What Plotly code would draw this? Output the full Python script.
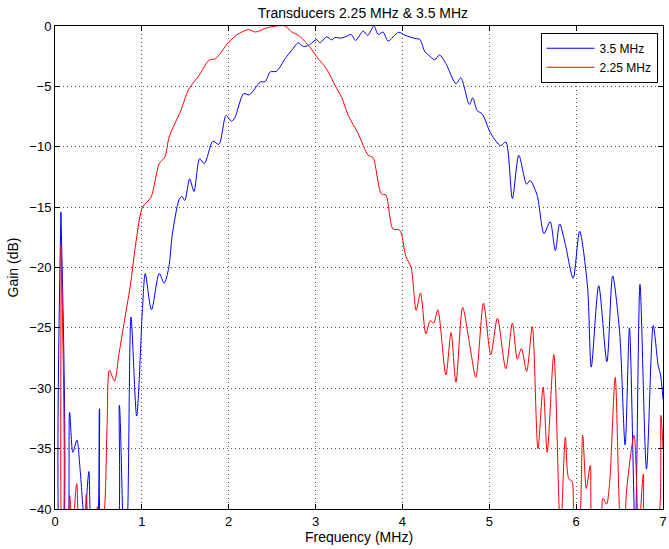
import plotly.graph_objects as go

# 2.25 MHz transducer (red)
red_f = [0.0, 0.055, 0.07, 0.088, 0.15, 0.17, 0.2, 0.25, 0.29, 0.33, 0.36, 0.4, 0.46, 0.49, 0.53, 0.57,
         0.6, 0.627, 0.684, 0.74, 0.80, 0.875, 0.93, 1.008, 1.104, 1.2, 1.265, 1.314, 1.448, 1.543, 1.657,
         1.772, 1.849, 1.93, 2.0, 2.116, 2.23, 2.307, 2.42, 2.536, 2.65, 2.727, 2.803, 2.88, 2.95, 3.03,
         3.1, 3.147, 3.223, 3.3, 3.376, 3.49, 3.605, 3.66, 3.757, 3.81, 3.89, 3.968, 4.04, 4.1, 4.158,
         4.208, 4.27, 4.32, 4.36, 4.407, 4.50, 4.56, 4.616, 4.693, 4.77, 4.845, 4.933, 5.017, 5.094, 5.19,
         5.266, 5.323, 5.37, 5.43, 5.495, 5.56, 5.62, 5.667, 5.743, 5.82, 5.876, 5.915, 5.953, 5.985, 6.02,
         6.075, 6.117, 6.163, 6.2, 6.27, 6.308, 6.35, 6.385, 6.45, 6.52, 6.56, 6.58, 6.667, 6.72, 6.774,
         6.81, 6.92, 6.976, 7.0]
red_db = [-45, -45, -18.2, -45, -42, -38.9, -42, -37.9, -42, -42, -38.8, -43, -42, -39.8, -42, -40,
          -33, -28.5, -29.4, -27, -24.4, -21.1, -18, -15.0, -14.2, -11.4, -10.85, -9.2, -7.0, -5.2, -4.1,
          -2.84, -2.7, -2.0, -1.33, -0.63, -0.3, -0.5, -0.2, 0, 0, -0.5, -0.77, -1.3, -1.9, -2.7,
          -3.3, -3.8, -4.9, -5.9, -7.4, -8.9, -10.7, -10.9, -13.9, -14.0, -16.8, -16.9, -19.1, -20.0, -23.55,
          -22.1, -25.5, -24.4, -24.6, -23.5, -28.9, -25.4, -29.5, -23.3, -26.2, -29.1, -22.95, -27.2, -24.2, -28.4,
          -24.6, -27.6, -26.7, -28.6, -24.9, -35.0, -29.9, -35.3, -27.2, -42, -34.05, -37.5, -37.7, -42, -42,
          -33.9, -38.3, -36.4, -42, -42, -39.1, -39.6, -37.9, -29.1, -42, -41, -38.5, -33.9, -42, -37.1,
          -42, -42, -32.25, -35]

# 3.5 MHz transducer (blue)
blue_f = [0.0, 0.06, 0.068, 0.08, 0.12, 0.168, 0.206, 0.252, 0.29, 0.34, 0.39, 0.43, 0.47, 0.512, 0.57,
          0.685, 0.741, 0.80, 0.83, 0.875, 0.94, 1.008, 1.039, 1.111, 1.2, 1.257, 1.31, 1.352, 1.428, 1.46,
          1.494, 1.55, 1.6, 1.665, 1.72, 1.818, 1.887, 1.97, 2.032, 2.07, 2.173, 2.238, 2.364, 2.42, 2.478,
          2.55, 2.65, 2.727, 2.8, 2.86, 2.92, 3.013, 3.05, 3.128, 3.185, 3.223, 3.3, 3.357, 3.41, 3.46,
          3.548, 3.6, 3.673, 3.72, 3.777, 3.834, 3.956, 4.03, 4.158, 4.2, 4.26, 4.3, 4.37, 4.426, 4.5,
          4.616, 4.673, 4.77, 4.81, 4.86, 4.92, 5.017, 5.13, 5.19, 5.266, 5.34, 5.43, 5.47, 5.55, 5.63,
          5.7, 5.76, 5.81, 5.876, 5.965, 6.04, 6.13, 6.174, 6.26, 6.354, 6.42, 6.5, 6.564, 6.614, 6.68,
          6.735, 6.81, 6.888, 6.946, 6.97, 7.0]
blue_db = [-45, -45, -15.4, -45, -45, -32.0, -35.3, -34.3, -36.8, -41, -36.9, -42, -42, -31.7, -44,
           -44, -31.4, -44, -42, -24.1, -32.3, -23.3, -20.5, -23.5, -20.5, -21.3, -20.0, -17.2, -14.4, -14.1,
           -14.45, -12.65, -13.7, -11.0, -11.4, -9.55, -9.8, -7.4, -7.9, -7.6, -5.6, -5.7, -4.64, -4.6, -3.8,
           -3.75, -2.7, -2.0, -1.4, -1.7, -1.6, -1.13, -1.4, -0.9, -1.15, -0.96, -1.0, -0.85, -0.7, -1.2,
           -0.42, -0.77, 0.0, -0.7, -0.5, -1.24, -0.52, -0.77, -1.05, -1.1, -2.15, -2.4, -2.8, -2.4, -3.1,
           -4.77, -4.3, -6.5, -5.95, -7.0, -7.3, -8.9, -9.9, -9.6, -14.3, -10.7, -13.1, -12.8, -14.0, -17.2,
           -16.2, -18.6, -16.4, -18.1, -20.9, -17.0, -21.5, -28.25, -21.5, -27.8, -20.7, -25.3, -34.7, -25.0, -42,
           -21.4, -36.7, -24.8, -28.2, -28.8, -30.9]

x_ticks = [0, 1, 2, 3, 4, 5, 6, 7]
y_ticks = [0, -5, -10, -15, -20, -25, -30, -35, -40]

fig = go.Figure()
fig.add_trace(go.Scatter(x=blue_f, y=blue_db, mode="lines", name="3.5 MHz",
                         line=dict(color="#0000ff", width=1, shape="spline", smoothing=0.8)))
fig.add_trace(go.Scatter(x=red_f, y=red_db, mode="lines", name="2.25 MHz",
                         line=dict(color="#ff0000", width=1, shape="spline", smoothing=0.8)))

font = "Liberation Sans, Arial, Helvetica, sans-serif"
axis_common = dict(showline=True, linecolor="black", linewidth=1, mirror="ticks",
                   ticks="inside", ticklen=5, tickcolor="black", showgrid=True,
                   gridcolor="#555555", griddash="1px,3px", gridwidth=1, zeroline=False,
                   ticklabeloverflow="allow",
                   tickfont=dict(size=13, color="black", family=font))

fig.update_xaxes(range=[0, 7], tickvals=x_ticks,
                 title=dict(text="Frequency (MHz)", font=dict(size=14, color="black", family=font), standoff=1),
                 **axis_common)
fig.update_yaxes(range=[-40, 0], tickvals=y_ticks,
                 title=dict(text="Gain (dB)", font=dict(size=14, color="black", family=font), standoff=7),
                 **axis_common)

fig.update_layout(
    width=669, height=549,
    margin=dict(l=55, r=2.5, t=26, b=40),
    paper_bgcolor="white", plot_bgcolor="white",
    title=dict(text="Transducers 2.25 MHz & 3.5 MHz", x=0.5425, xanchor="center",
               yref="paper", y=1, yanchor="bottom", pad=dict(b=8),
               font=dict(size=14, color="black", family=font)),
    legend=dict(x=0.991, y=0.986, xanchor="right", yanchor="top", bgcolor="white",
                bordercolor="black", borderwidth=1, font=dict(size=12, color="black", family=font),
                tracegroupgap=0, itemwidth=48),
    showlegend=True,
)

fig.write_html("out.html", config={"displayModeBar": False},
               post_script="document.body.style.margin='0px';")
